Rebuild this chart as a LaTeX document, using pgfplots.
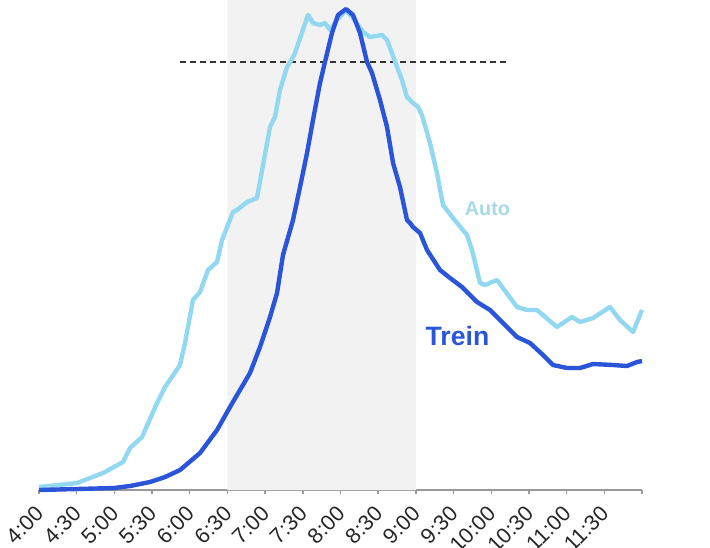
\documentclass[border=0pt]{standalone}
\usepackage{pgfplots}
\pgfplotsset{compat=1.18}
\usepackage{fontspec}
\setmainfont{Liberation Sans}
\usetikzlibrary{calc}

\definecolor{autoblue}{HTML}{92D8F0}
\definecolor{autotext}{HTML}{A6DAE6}
\definecolor{treinblue}{HTML}{2A55D8}
\definecolor{shade}{HTML}{F2F2F2}
\definecolor{axisgray}{HTML}{999999}

\begin{document}
\begin{tikzpicture}
\begin{axis}[
  scale only axis, width=301.5pt, height=245pt,
  xmin=4, xmax=12, ymin=0, ymax=490,
  axis x line=bottom, axis y line=none,
  axis line style={-, axisgray, line width=0.8pt},
  xtick={4,4.5,...,12},
  xticklabels={4:00,4:30,5:00,5:30,6:00,6:30,7:00,7:30,8:00,8:30,9:00,9:30,10:00,10:30,11:00,11:30,},
  tick align=outside, major tick length=2.2pt,
  tick style={axisgray, line width=0.7pt},
  xticklabel style={xshift=1pt, yshift=-7pt, rotate=45, anchor=east, inner sep=1pt, font=\fontsize{10.8}{12}\selectfont, text=black!85},
  /pgf/number format/assume math mode=true,
  clip=false,
]
% shaded period 6:30-9:00
\addplot[draw=none, fill=shade] coordinates {(6.5,0) (6.5,490) (9,490) (9,0)} \closedcycle;
% reference level
\addplot[black!80, line width=0.75pt, dash pattern=on 3pt off 2pt] coordinates {(5.871,428) (10.209,428)};
% Auto
\addplot[autoblue, line width=2.2pt, line join=round] coordinates {
(4.000,3) (4.504,7) (4.849,17) (5.114,28) (5.207,42) (5.367,53) (5.566,87)
(5.672,103) (5.871,125) (5.937,147) (6.043,190) (6.136,198) (6.242,220)
(6.362,228) (6.428,250) (6.574,278) (6.627,280) (6.760,288) (6.892,292)
(7.065,363) (7.131,373) (7.197,400) (7.290,423) (7.357,431) (7.396,437)
(7.569,475) (7.635,467) (7.728,465) (7.794,467) (7.861,460) (7.954,470)
(8.073,480) (8.166,472) (8.299,458) (8.391,453) (8.551,455) (8.617,450)
(8.683,437) (8.750,423) (8.816,410) (8.882,393) (8.962,387) (9.028,383)
(9.081,375) (9.187,347) (9.280,317)
(9.360,285) (9.493,272) (9.678,255) (9.745,240) (9.851,207) (9.917,205)
(10.076,210) (10.342,183) (10.474,180) (10.607,180) (10.872,163) (11.071,173)
(11.178,168) (11.350,172) (11.576,183) (11.708,170) (11.881,158) (12.000,180)
};
% Trein
\addplot[treinblue, line width=2.2pt, line join=round] coordinates {
(4.000,0) (4.491,1) (4.995,2) (5.207,4) (5.473,8) (5.672,13) (5.871,20)
(6.136,37) (6.362,60) (6.534,83) (6.799,117) (6.932,143) (7.065,173)
(7.158,197) (7.237,235) (7.370,270) (7.463,303) (7.556,337) (7.635,370)
(7.728,407) (7.794,428) (7.887,457) (7.967,475) (8.073,481) (8.166,475)
(8.259,457) (8.352,428) (8.418,417) (8.524,390) (8.617,363) (8.697,327)
(8.789,303) (8.882,270) (8.922,267) (8.962,263) (9.055,257) (9.148,240)
(9.320,220) (9.453,212) (9.612,203) (9.692,197)
(9.811,188) (9.984,180) (10.116,170) (10.342,153) (10.514,147) (10.687,135)
(10.819,125) (11.005,122) (11.178,122) (11.350,126) (11.615,125) (11.801,124)
(11.934,128) (12.000,129)
};
\node[text=autotext, font=\bfseries\fontsize{9.9}{11}\selectfont] at (axis cs:9.95,281) {Auto};
\node[text=treinblue, font=\bfseries\fontsize{13.3}{15}\selectfont] at (axis cs:9.552,154) {Trein};
\end{axis}
\pgfresetboundingbox
\path[use as bounding box] ($(current axis.south west)+(-19.5pt,-28.5pt)$) rectangle ($(current axis.north east)+(34pt,0pt)$);
\end{tikzpicture}
\end{document}
